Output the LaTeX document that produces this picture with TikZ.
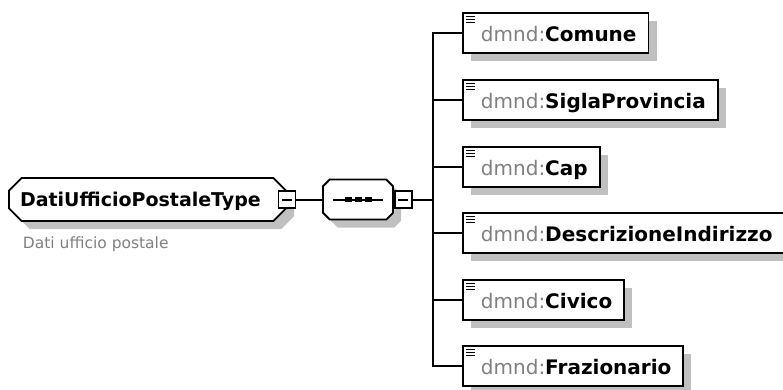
\documentclass[tikz,border=0pt]{standalone}
\usepackage{fontspec}
\setmainfont{DejaVu Sans}
\usetikzlibrary{positioning,shadows,shapes.misc}
\definecolor{nsgray}{RGB}{128,128,128}
\definecolor{shadowgray}{RGB}{192,192,192}
\newcommand{\elemname}[1]{\hspace*{6pt}\textcolor{nsgray}{dmnd:}\textbf{#1}}

\begin{document}
\begin{tikzpicture}[
x=1pt, y=-1pt, line width=2pt,
every node/.style={font=\fontsize{20}{24}\selectfont, line width=1.9pt},
boxshadow/.style={drop shadow={shadow xshift=8pt, shadow yshift=-8pt, fill=shadowgray, opacity=1}},
typebox/.style={chamfered rectangle, chamfered rectangle xsep=9pt, draw, fill=white, boxshadow,
        minimum height=43pt, text width=255pt, align=left, inner xsep=2pt,
        text height=13.5pt, text depth=0pt, font=\fontsize{19}{22}\selectfont\bfseries},
seqbox/.style={chamfered rectangle, chamfered rectangle xsep=10pt, draw, fill=white, boxshadow,
        minimum width=70pt, minimum height=40pt,
        path picture={
          \draw[line width=2pt] ([xshift=-25pt]path picture bounding box.center) -- ([xshift=25pt]path picture bounding box.center);
          \foreach \d in {-13.5pt,-3.5pt,6.5pt}
            \fill[black] ([shift={(\d,-2.5pt)}]path picture bounding box.center) rectangle ++(7pt,5pt);}},
minusbox/.style={rectangle, draw, fill=white, minimum size=17pt, inner sep=0pt,
        path picture={\draw[line width=2pt] ([xshift=3.5pt]path picture bounding box.west) -- ([xshift=-3.5pt]path picture bounding box.east);}},
elem/.style={rectangle, draw, fill=white, boxshadow, anchor=west, minimum height=40pt,
        inner xsep=12pt, text height=16pt, text depth=0pt,
        path picture={\foreach \k in {3.5pt,6.5pt,9.5pt}
          \draw[line width=1pt] ([shift={(3.5pt,-\k)}]path picture bounding box.north west) -- ++(9pt,0pt);}}
]
  \useasboundingbox (0,0) rectangle (783,389);

  % complex type
  \node[typebox] (dut) at (147.5,199.5) {DatiUfficioPostaleType};
  \node[minusbox] (dutm) at (dut.east) {};
  \node[font=\fontsize{15.5}{18}\selectfont, text=nsgray, anchor=base west, inner sep=0pt] (dutdoc) at (22,248) {Dati ufficio postale};

  % sequence
  \node[seqbox] (seq) at (358,199.5) {};
  \node[minusbox, right=0pt of seq] (seqm) {};
  \coordinate (bus) at ([xshift=20pt]seqm.east);

  % elements
  \node[elem] (comune) at (462,33) {\elemname{Comune}};
  \node[elem] (sigla) at (462,100) {\elemname{SiglaProvincia}};
  \node[elem] (cap) at (462,167) {\elemname{Cap}};
  \node[elem] (descr) at (462,233) {\elemname{DescrizioneIndirizzo}};
  \node[elem] (civico) at (462,300) {\elemname{Civico}};
  \node[elem] (fraz) at (462,366) {\elemname{Frazionario}};

  \draw (dutm.east) -- (seq.west);
  \draw (seqm.east) -- (bus);
  \draw (bus) |- (comune.west) (bus) |- (sigla.west) (bus) |- (cap.west)
        (bus) |- (descr.west) (bus) |- (civico.west) (bus) |- (fraz.west);
\end{tikzpicture}
\end{document}
